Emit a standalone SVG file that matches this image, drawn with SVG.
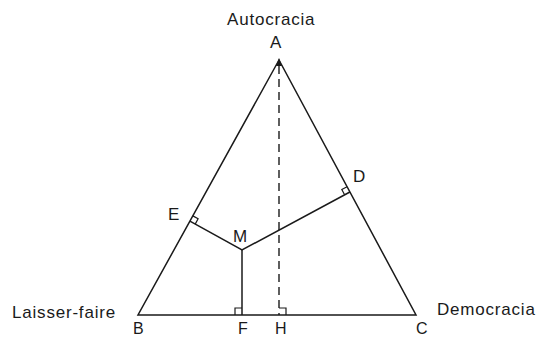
<svg xmlns="http://www.w3.org/2000/svg" width="536" height="339" viewBox="0 0 536 339">
<style>
.l{stroke:#1a1a1a;stroke-width:1.5;fill:none}
.d{stroke:#1a1a1a;stroke-width:1.4;fill:none;stroke-dasharray:8,5}
.m{stroke:#1a1a1a;stroke-width:1.2;fill:none}
text{font-family:"Liberation Sans",Arial,sans-serif;font-size:17px;letter-spacing:0.8px;fill:#1a1a1a}
.s{font-size:16px}
</style>
<rect width="536" height="339" fill="#fff"/>
<g id="connectors">
<polygon class="l" points="279,60 138,315 416,315" stroke-linejoin="miter"/>
<line class="d" x1="279" y1="66" x2="279" y2="315"/>
<line class="l" x1="242" y1="250" x2="242" y2="315"/>
<polyline class="l" points="189.9,221.2 242,250 349.9,192"/>
<polygon points="279,58 276,66 282,66" fill="#1a1a1a"/>
<path class="m" d="M235,315 V308 H242"/>
<path class="m" d="M279,308 H286 V315"/>
<path class="m" d="M192.8,215.9 L198.1,218.8 L195.2,224.1"/>
<path class="m" d="M347.1,186.7 L341.8,189.5 L344.6,194.8"/>
</g>
<g id="A"><text x="227" y="25">Autocracia</text><text x="270" y="48">A</text></g>
<g id="B"><text x="12" y="318">Laisser-faire</text><text class="s" x="133" y="334">B</text></g>
<g id="C"><text x="437" y="315">Democracia</text><text class="s" x="416" y="334">C</text></g>
<g id="D"><text x="353" y="182">D</text></g>
<g id="E"><text x="168" y="220">E</text></g>
<g id="M"><text x="233" y="242">M</text></g>
<g id="F"><text class="s" x="238" y="334">F</text></g>
<g id="H"><text class="s" x="275" y="334">H</text></g>
</svg>
